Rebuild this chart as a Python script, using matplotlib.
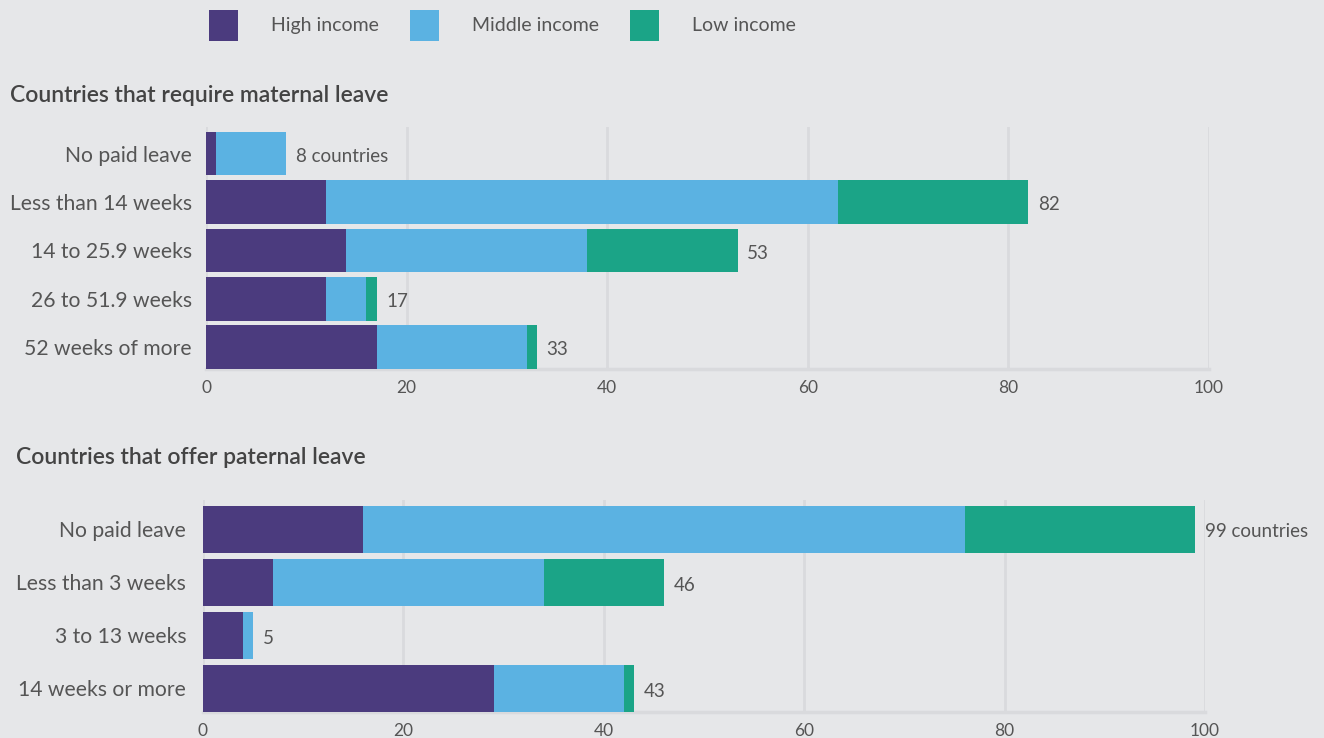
"""
Paid parental leave by income group: two stacked horizontal bar panels.
Saves out.png.
"""

import numpy as np
import matplotlib.pyplot as plt
from matplotlib.patches import Patch


BG = "#e6e7e9"
GRID = "#d9dadd"
TEXT = "#555555"
COLORS = ["#4b3b7e", "#5bb2e2", "#1ba487"]
GROUPS = ["High income", "Middle income", "Low income"]

# maternal leave (countries per income group)
mat_cats = ["No paid leave", "Less than 14 weeks", "14 to 25.9 weeks",
            "26 to 51.9 weeks", "52 weeks of more"]
mat_high = [1, 12, 14, 12, 17]
mat_mid = [7, 51, 24, 4, 15]
mat_low = [0, 19, 15, 1, 1]

# paternal leave
pat_cats = ["No paid leave", "Less than 3 weeks", "3 to 13 weeks", "14 weeks or more"]
pat_high = [16, 7, 4, 29]
pat_mid = [60, 27, 1, 13]
pat_low = [23, 12, 0, 1]

xticks = [0, 20, 40, 60, 80, 100]

plt.rcParams["font.family"] = ["Lato", "DejaVu Sans"]

W, H = 1324, 738
fig = plt.figure(figsize=(W / 100, H / 100), dpi=100, facecolor=BG)


def px_axes(left, right, top, bottom):
    return fig.add_axes([left / W, 1 - bottom / H, (right - left) / W, (bottom - top) / H])


def draw_panel(ax, cats, series, height, ylabel_pad):
    y = np.arange(len(cats))
    left = np.zeros(len(cats))
    for vals, color in zip(series, COLORS):
        vals = np.array(vals, dtype=float)
        ax.barh(y, vals, left=left, height=height, color=color, zorder=3)
        left += vals
    for i, total in enumerate(left):
        label = f"{int(total)} countries" if i == 0 else f"{int(total)}"
        ax.annotate(label, (total, y[i]), xytext=(7, -2), textcoords="offset points",
                    ha="left", va="center", fontsize=13.5, color=TEXT, annotation_clip=False)
    ax.set_facecolor(BG)
    ax.set_xlim(0, 100)
    ax.set_ylim(len(cats) - 1 + height / 2, -0.55)
    ax.set_xticks(xticks)
    ax.set_yticks(y)
    ax.set_yticklabels(cats)
    ax.grid(axis="x", color=GRID, linewidth=2, zorder=0)
    ax.grid(axis="y", visible=False)
    for s in ["top", "right", "left"]:
        ax.spines[s].set_visible(False)
    ax.spines["bottom"].set_color(GRID)
    ax.spines["bottom"].set_linewidth(2.5)
    ax.tick_params(axis="x", length=0, pad=8, labelsize=12.5, labelcolor=TEXT)
    ax.tick_params(axis="y", length=0, pad=ylabel_pad, labelsize=15.2, labelcolor=TEXT)


ax1 = px_axes(206, 1209, 127, 369)
draw_panel(ax1, mat_cats, [mat_high, mat_mid, mat_low], 0.9, 10)

ax2 = px_axes(203, 1205, 500, 712)
draw_panel(ax2, pat_cats, [pat_high, pat_mid, pat_low], 0.89, 12)

fig.text(10 / W, 1 - 95 / H, "Countries that require maternal leave", fontsize=16.5,
         fontweight="semibold", color="#444444", ha="left", va="center")
fig.text(16 / W, 1 - 457 / H, "Countries that offer paternal leave", fontsize=16.5,
         fontweight="semibold", color="#444444", ha="left", va="center")

handles = [Patch(facecolor=c, label=g) for c, g in zip(COLORS, GROUPS)]
fig.legend(handles=handles, loc="upper left", bbox_to_anchor=(199 / W, 1.0),
           ncol=3, frameon=False, fontsize=14, labelcolor=TEXT, borderpad=0,
           handlelength=1.5, handleheight=2.1, handletextpad=1.7, columnspacing=1.6)

fig.savefig("out.png", dpi=100, facecolor=BG)
